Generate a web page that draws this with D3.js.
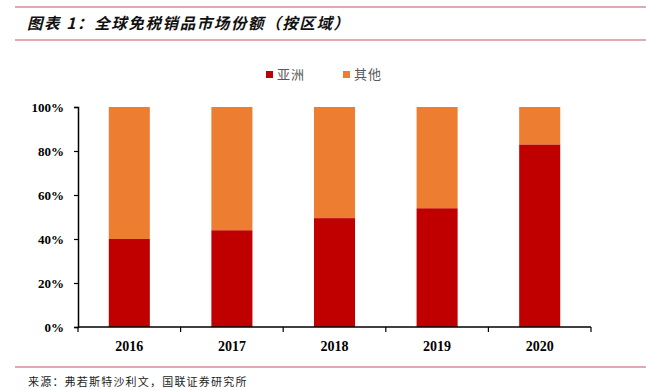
<!DOCTYPE html>
<html>
<head>
<meta charset="utf-8">
<script src="https://cdn.jsdelivr.net/npm/d3@7"></script>
<style>
  body { margin: 0; background: #fff; }
  svg { display: block; }
</style>
</head>
<body>
<svg id="chart" width="646" height="390"></svg>
<script>
const years = ["2016", "2017", "2018", "2019", "2020"];
const asia = [40, 44, 49.5, 54, 83];
const other = [60, 56, 50.5, 46, 17];
const seriesNames = ["亚洲", "其他"];
const yTicks = [0, 20, 40, 60, 80, 100];

const colors = ["#C00000", "#ED7D31"];
const W = 646, H = 390;
const margin = {left: 78, right: 55, top: 107, bottom: 63};

const svg = d3.select("#chart");

// header / footer rules
const ruleColor = "#D98C9C";
[7, 40, 367].forEach(yy => {
  svg.append("line").attr("x1", 15).attr("x2", W).attr("y1", yy).attr("y2", yy)
    .attr("stroke", ruleColor).attr("stroke-width", 1.5);
});

svg.append("text")
  .attr("x", 27).attr("y", 29)
  .style("font-family", "'Noto Sans CJK SC', sans-serif")
  .style("font-size", "15.5px").style("font-weight", "bold").style("font-style", "italic")
  .style("letter-spacing", "1.6px")
  .attr("fill", "#111")
  .text("图表 1：全球免税销品市场份额（按区域）");

svg.append("text")
  .attr("x", 28).attr("y", 386)
  .style("font-family", "'Noto Sans CJK SC', sans-serif")
  .style("font-size", "11px")
  .style("letter-spacing", "1.2px")
  .attr("fill", "#222")
  .text("来源：弗若斯特沙利文，国联证券研究所");

const data = years.map((y, i) => ({year: y, "亚洲": asia[i], "其他": other[i]}));
const layers = d3.stack().keys(seriesNames)(data);

const x = d3.scaleBand().domain(years)
  .range([margin.left, W - margin.right]).paddingInner(0.6).paddingOuter(0.3);
const y = d3.scaleLinear().domain([0, 100]).range([H - margin.bottom, margin.top]);

svg.append("g").selectAll("g")
  .data(layers)
  .join("g")
  .attr("fill", (d, i) => colors[i])
  .selectAll("rect")
  .data(d => d)
  .join("rect")
  .attr("x", d => x(d.data.year))
  .attr("width", x.bandwidth())
  .attr("y", d => y(d[1]))
  .attr("height", d => y(d[0]) - y(d[1]));

// y axis
const yAxis = svg.append("g")
  .attr("transform", `translate(${margin.left},0)`)
  .call(d3.axisLeft(y).tickValues(yTicks).tickSize(4).tickPadding(10).tickFormat(d => d + "%"));
yAxis.select(".domain").attr("stroke", "#000").attr("stroke-width", 1.5);
yAxis.selectAll(".tick line").attr("stroke", "#000").attr("stroke-width", 1.2);
yAxis.selectAll("text")
  .style("font-family", "'Liberation Serif', serif")
  .style("font-size", "13px").style("font-weight", "bold").attr("fill", "#000");

// x axis with ticks at category boundaries
const step = x.step();
const boundaries = d3.range(years.length + 1).map(i => margin.left + i * step);
const xAxisG = svg.append("g");
xAxisG.append("line")
  .attr("x1", margin.left).attr("x2", boundaries[boundaries.length - 1])
  .attr("y1", y(0)).attr("y2", y(0))
  .attr("stroke", "#000").attr("stroke-width", 1.5);
xAxisG.selectAll(".bt")
  .data(boundaries)
  .join("line")
  .attr("x1", d => d).attr("x2", d => d)
  .attr("y1", y(0)).attr("y2", y(0) + 5)
  .attr("stroke", "#000").attr("stroke-width", 1.2);
xAxisG.selectAll(".lbl")
  .data(years)
  .join("text")
  .attr("x", d => x(d) + x.bandwidth() / 2)
  .attr("y", y(0) + 24)
  .attr("text-anchor", "middle")
  .style("font-family", "'Liberation Serif', serif")
  .style("font-size", "14px").style("font-weight", "bold").attr("fill", "#000")
  .text(d => d);

// legend
const legend = svg.append("g").selectAll("g")
  .data(seriesNames)
  .join("g")
  .attr("transform", (d, i) => `translate(${266 + i * 77},71)`);
legend.append("rect").attr("width", 7).attr("height", 7).attr("fill", (d, i) => colors[i]);
legend.append("text")
  .attr("x", 11).attr("y", 8)
  .style("font-family", "'Noto Sans CJK SC', sans-serif")
  .style("font-size", "13px").style("letter-spacing", "1px").attr("fill", "#595959")
  .text(d => d);
</script>
</body>
</html>
